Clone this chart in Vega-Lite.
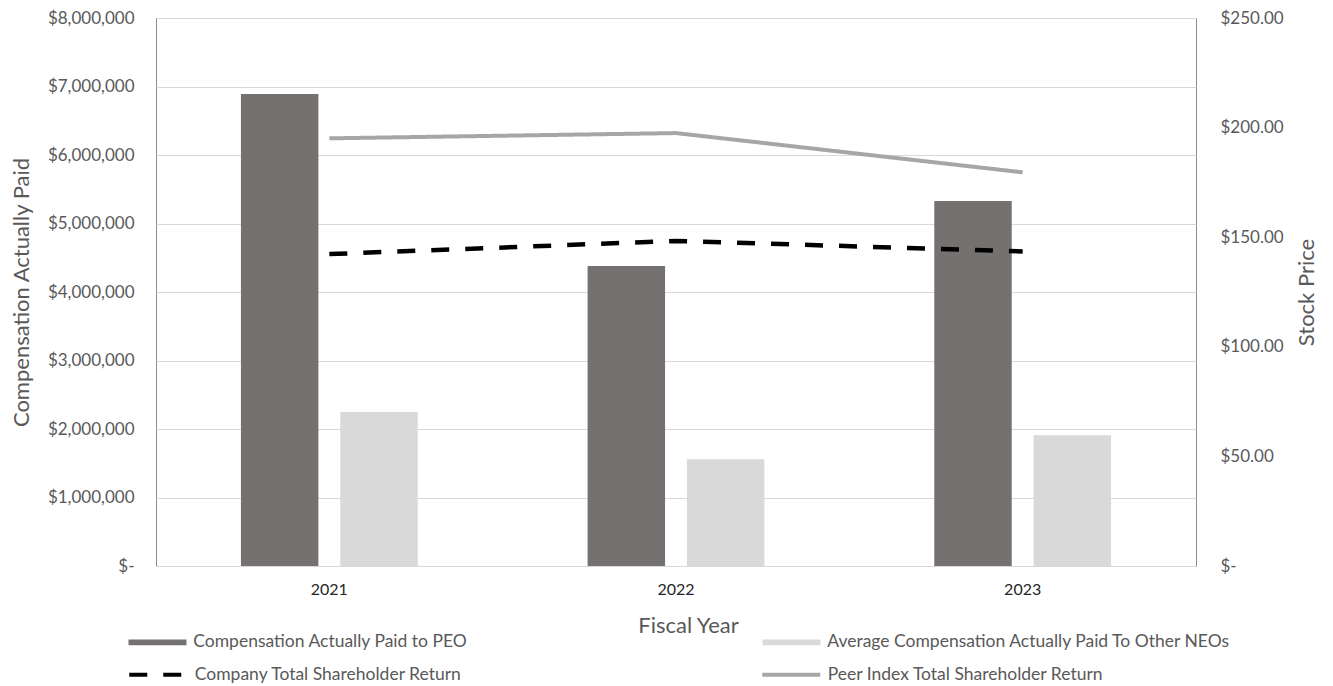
{
  "$schema": "https://vega.github.io/schema/vega-lite/v6.json",
  "width": 1040,
  "height": 548,
  "autosize": {"type": "none"},
  "padding": {"left": 156, "top": 18, "right": 137, "bottom": 120},
  "background": "white",
  "config": {
    "font": "Lato",
    "view": {"stroke": "#8c8c8c", "strokeWidth": 1},
    "axis": {
      "labelFont": "Lato",
      "labelFontSize": 17,
      "labelColor": "#595959",
      "titleFont": "Lato",
      "titleFontSize": 22,
      "titleFontWeight": "normal",
      "titleColor": "#595959",
      "ticks": false,
      "domain": false
    },
    "legend": {
      "labelFont": "Lato",
      "labelFontSize": 17.5,
      "labelColor": "#595959",
      "labelLimit": 600,
      "labelOffset": 27,
      "symbolSize": 210,
      "padding": 0
    }
  },
  "datasets": {
    "comp": [
      {"year": "2021", "series": "Compensation Actually Paid to PEO", "value": 6890000},
      {"year": "2022", "series": "Compensation Actually Paid to PEO", "value": 4380000},
      {"year": "2023", "series": "Compensation Actually Paid to PEO", "value": 5330000},
      {"year": "2021", "series": "Average Compensation Actually Paid To Other NEOs", "value": 2250000},
      {"year": "2022", "series": "Average Compensation Actually Paid To Other NEOs", "value": 1560000},
      {"year": "2023", "series": "Average Compensation Actually Paid To Other NEOs", "value": 1910000}
    ],
    "tsr": [
      {"year": "2021", "series": "Company Total Shareholder Return", "price": 142.3},
      {"year": "2022", "series": "Company Total Shareholder Return", "price": 148.3},
      {"year": "2023", "series": "Company Total Shareholder Return", "price": 143.5},
      {"year": "2021", "series": "Peer Index Total Shareholder Return", "price": 195.1},
      {"year": "2022", "series": "Peer Index Total Shareholder Return", "price": 197.5},
      {"year": "2023", "series": "Peer Index Total Shareholder Return", "price": 179.6}
    ]
  },
  "layer": [
    {
      "data": {"name": "comp"},
      "mark": {"type": "bar"},
      "encoding": {
        "x": {
          "field": "year",
          "type": "nominal",
          "scale": {"paddingInner": 0.49, "paddingOuter": 0.245},
          "axis": {
            "title": "Fiscal Year",
            "labelAngle": 0,
            "labelFontSize": 16,
            "labelColor": "#262626",
            "labelPadding": 15,
            "titlePadding": 18,
            "titleX": 532,
            "grid": false
          }
        },
        "xOffset": {
          "field": "series",
          "type": "nominal",
          "scale": {
            "domain": ["Compensation Actually Paid to PEO", "Average Compensation Actually Paid To Other NEOs"],
            "paddingInner": 0.22,
            "paddingOuter": 0
          }
        },
        "y": {
          "field": "value",
          "type": "quantitative",
          "scale": {"domain": [0, 8000000]},
          "axis": {
            "orient": "left",
            "values": [0, 1000000, 2000000, 3000000, 4000000, 5000000, 6000000, 7000000, 8000000],
            "labelExpr": "datum.value === 0 ? '$-\u00a0\u00a0' : '$' + format(datum.value, ',')",
            "grid": true,
            "gridColor": "#d9d9d9",
            "labelPadding": 22,
            "title": "Compensation Actually Paid",
            "titlePadding": 14
          }
        },
        "fill": {
          "field": "series",
          "type": "nominal",
          "scale": {
            "domain": ["Compensation Actually Paid to PEO", "Average Compensation Actually Paid To Other NEOs"],
            "range": ["#767171", "#d9d9d9"]
          },
          "legend": {
            "title": null,
            "orient": "none",
            "legendX": -7.25,
            "legendY": 615.25,
            "direction": "horizontal",
            "columns": 2,
            "columnPadding": 293,
            "symbolType": "M-4,-0.4L4,-0.4L4,0.4L-4,0.4Z",
            "symbolStrokeWidth": 0,
            "symbolOpacity": 1
          }
        }
      }
    },
    {
      "data": {"name": "tsr"},
      "encoding": {
        "x": {"field": "year", "type": "nominal"},
        "y": {
          "field": "price",
          "type": "quantitative",
          "scale": {"domain": [0, 250]},
          "axis": {
            "orient": "right",
            "values": [0, 50, 100, 150, 200, 250],
            "labelExpr": "datum.value === 0 ? '$-' : '$' + format(datum.value, '.2f')",
            "grid": false,
            "labelPadding": 24,
            "title": "Stock Price",
            "titleAngle": 270,
            "titlePadding": 35
          }
        },
        "stroke": {
          "field": "series",
          "type": "nominal",
          "scale": {
            "domain": ["Company Total Shareholder Return", "Peer Index Total Shareholder Return"],
            "range": ["#000000", "#a6a6a6"]
          },
          "legend": {
            "title": null,
            "orient": "none",
            "legendX": -7.25,
            "legendY": 647.25,
            "direction": "horizontal",
            "columns": 2,
            "columnPadding": 291,
            "symbolType": "M-4,0L4,0",
            "symbolStrokeWidth": 4,
            "symbolOpacity": 1
          }
        },
        "strokeDash": {
          "field": "series",
          "type": "nominal",
          "scale": {
            "domain": ["Company Total Shareholder Return", "Peer Index Total Shareholder Return"],
            "range": [[18, 16], [1, 0]]
          },
          "legend": {
            "title": null,
            "orient": "none",
            "legendX": -7.25,
            "legendY": 647.25,
            "direction": "horizontal",
            "columns": 2,
            "columnPadding": 291,
            "symbolType": "M-4,0L4,0",
            "symbolStrokeWidth": 4,
            "symbolOpacity": 1
          }
        }
      },
      "layer": [
        {
          "transform": [{"filter": "datum.series === 'Company Total Shareholder Return'"}],
          "mark": {"type": "line", "strokeWidth": 4.5}
        },
        {
          "transform": [{"filter": "datum.series === 'Peer Index Total Shareholder Return'"}],
          "mark": {"type": "line", "strokeWidth": 4}
        }
      ]
    }
  ],
  "resolve": {"scale": {"y": "independent"}}
}
